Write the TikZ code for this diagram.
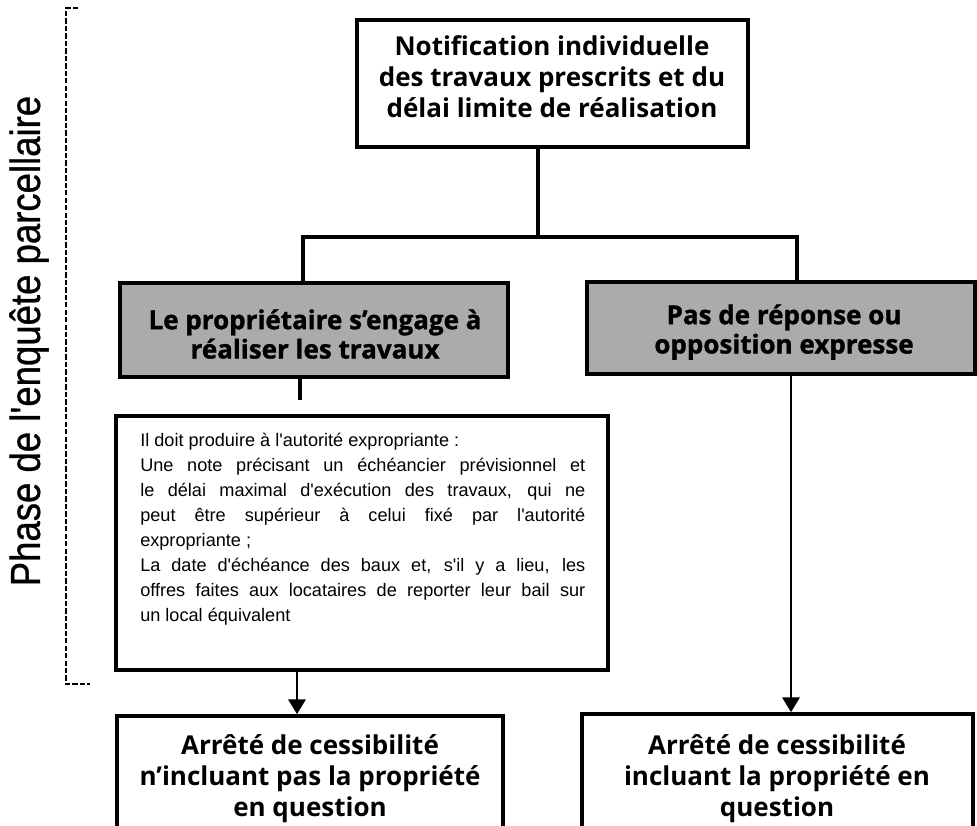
\documentclass[tikz,border=0pt]{standalone}
\usepackage{fontspec}
\setmainfont{Open Sans}
\newfontfamily\bodyfont{Liberation Sans}
\newfontfamily\boxfont{Open Sans}
\newfontfamily\grayfont{Open Sans}[BoldFeatures={FakeBold=1.2}]
\newfontfamily\phasefont{Liberation Sans}[FakeBold=0.8]
\usetikzlibrary{fit,arrows.meta}
\newlength{\bodyin}
\setlength{\bodyin}{333.75pt}
\newcommand{\jline}[1]{\makebox[\bodyin][s]{#1}}
\tikzset{
  box/.style={draw=black, line width=2.8pt, inner sep=0pt, fill=white},
  graybox/.style={draw=black, line width=3pt, inner sep=0pt, fill=black!33},
  boxtext/.style={inner sep=0pt, align=center, font=\boxfont\bfseries\fontsize{19.5}{23.3}\selectfont},
  graytext/.style={inner sep=0pt, align=center, font=\grayfont\bfseries\fontsize{19.5}{22}\selectfont},
  bodytext/.style={inner sep=0pt},
  conn/.style={draw=black, line width=2.6pt},
  arr/.style={draw=black, line width=1.4pt, -{Triangle[width=13pt,length=11pt]}},
  bracket/.style={draw=black, line width=1.6pt, dash pattern=on 4pt off 1.6pt}
}
\begin{document}
\begin{tikzpicture}[x=0.75pt,y=-0.75pt]
\useasboundingbox (0,0) rectangle (977,825);
\clip (0,0) rectangle (977,825);
% boxes
\node[box, fit={(357,20) (748,147)}] (top) {};
\node[graybox, fit={(120,283) (508,377)}] (gl) {};
\node[graybox, fit={(587,282) (975,374)}] (gr) {};
\node[box, fit={(116,416) (608,670)}] (tb) {};
\node[box, fit={(117,716) (503,845)}] (bl) {};
\node[box, fit={(582,714) (973,845)}] (br) {};
% texts
\node[boxtext] (toptext) at (552,77) {Notification individuelle\\des travaux prescrits et du\\délai limite de réalisation};
\node[graytext] (gltext) at (315,334) {Le propriétaire s’engage à\\réaliser les travaux};
\node[graytext] (grtext) at (784,332) {Pas de réponse ou\\opposition expresse};
\node[boxtext] (bltext) at (310,779) {Arrêté de cessibilité\\n’incluant pas la propriété\\en question};
\node[boxtext] (brtext) at (777,779) {Arrêté de cessibilité\\incluant la propriété en\\question};
\node[bodytext, anchor=north west] (body) at (140,433) {\bodyfont\fontsize{13.6}{18.75}\selectfont\parbox{\bodyin}{\setlength{\parindent}{0pt}%
Il doit produire à l'autorité expropriante :\\
\jline{Une note précisant un échéancier prévisionnel et}\\
\jline{le délai maximal d'exécution des travaux, qui ne}\\
\jline{peut être supérieur à celui fixé par l'autorité}\\
expropriante ;\\
\jline{La date d'échéance des baux et, s'il y a lieu, les}\\
\jline{offres faites aux locataires de reporter leur bail sur}\\
un local équivalent}};
% side label
\node[rotate=90, inner sep=0pt] (phase) at (29,341) {\phasefont\fontsize{31.5}{36}\selectfont\scalebox{0.87}[1]{Phase de l'enquête parcellaire}};
\draw[bracket] (78,8) -- (66,8) -- (66,684) -- (90,684);
% connectors
\coordinate (j) at (538,237);
\coordinate (jl) at (303,237);
\coordinate (jr) at (797,237);
\coordinate (e1) at (300,400);
\coordinate (a1) at (297,700);
\coordinate (a2) at (791,700);
\draw[conn] (top.south -| j) -- (j);
\draw[conn] (gl.north -| jl) -- (jl) -- (jr) -- (gr.north -| jr);
\draw[conn] (gl.south -| e1) -- (e1);
\draw[arr] (tb.south -| a1) -- (bl.north -| a1);
\draw[arr] (gr.south -| a2) -- (br.north -| a2);
\end{tikzpicture}
\end{document}
